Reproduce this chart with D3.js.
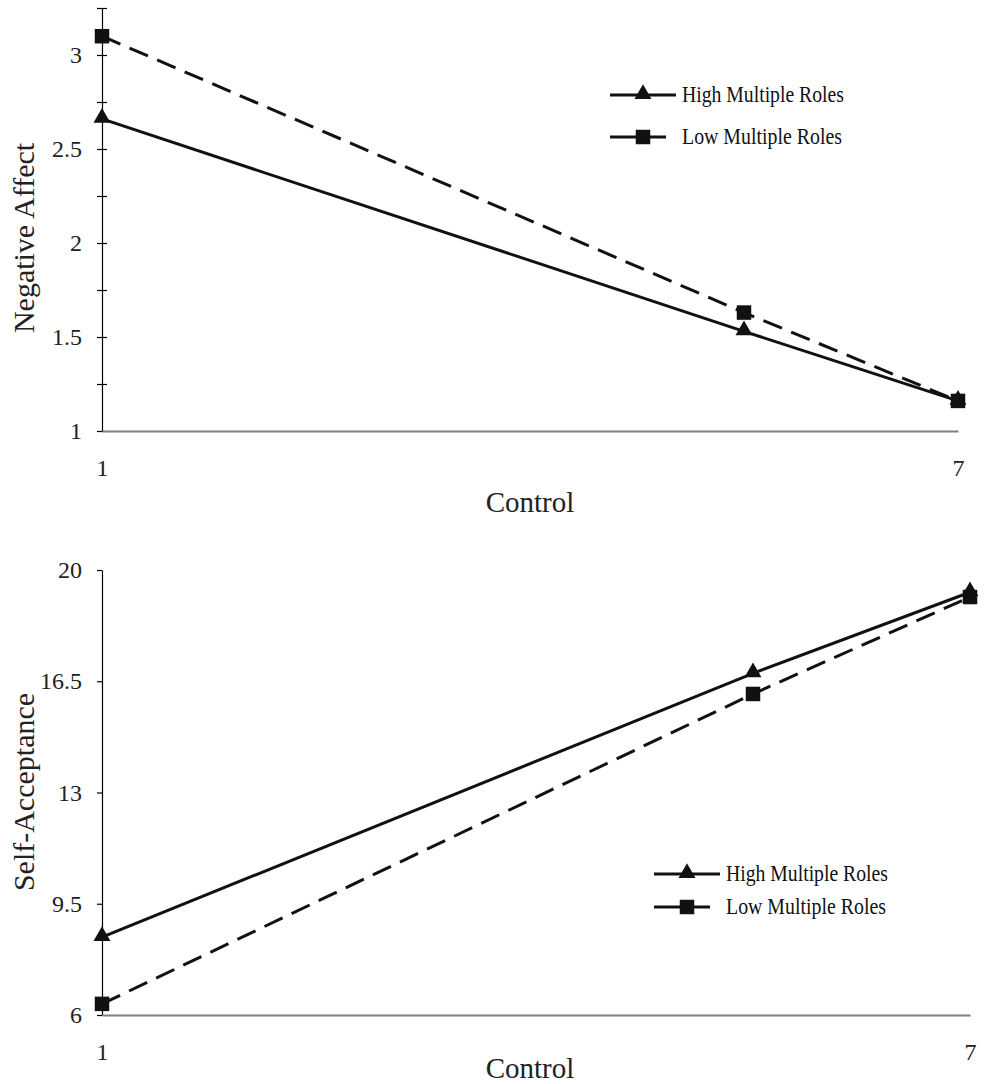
<!DOCTYPE html>
<html>
<head>
<meta charset="utf-8">
<script src="https://cdn.jsdelivr.net/npm/d3@7"></script>
<style>
  body { margin: 0; background: #fff; }
  svg { display: block; font-family: "Liberation Serif", "Times New Roman", serif; }
</style>
</head>
<body>
<div id="chart"></div>
<script>
// values
var controlLevels = [1, 5.5, 7];
var controlTicks = [1, 7];
var seriesNames = ["High Multiple Roles", "Low Multiple Roles"];

var negHigh = [2.66, 1.53, 1.16];
var negLow = [3.10, 1.63, 1.16];
var negTicks = [1, 1.25, 1.5, 1.75, 2, 2.25, 2.5, 2.75, 3, 3.25];

var selfHigh = [8.45, 16.75, 19.3];
var selfLow = [6.35, 16.1, 19.15];
var selfTicks = [6, 9.5, 13, 16.5, 20];

var serif = "Liberation Serif, Times New Roman, serif";

var svg = d3.select("#chart").append("svg")
  .attr("width", 986)
  .attr("height", 1084);

function drawPanel(opt) {
  var x = d3.scaleLinear().domain([1, 7]).range([102, opt.xRight]);
  var y = d3.scaleLinear().domain(opt.yDomain).range([opt.yBottom, opt.yTop]);

  var g = svg.append("g");

  // y axis
  var yAxis = g.append("g")
    .attr("transform", "translate(102,0)")
    .call(d3.axisLeft(y)
      .tickValues(opt.yTicks)
      .tickSizeInner(5)
      .tickSizeOuter(0)
      .tickPadding(15)
      .tickFormat(opt.yFormat));
  yAxis.select(".domain").attr("stroke", "#000").attr("stroke-width", 1.2);
  yAxis.selectAll(".tick line").attr("stroke", "#000").attr("stroke-width", 1.2);
  if (opt.crossTicks) yAxis.selectAll(".tick line").attr("x1", 5);
  yAxis.selectAll(".tick text")
    .attr("font-size", 24).attr("fill", "#222")
    .attr("font-family", serif);

  // x axis
  var xAxis = g.append("g")
    .attr("transform", "translate(0," + opt.yBottom + ")")
    .call(d3.axisBottom(x)
      .tickValues(controlTicks)
      .tickSize(0)
      .tickPadding(28)
      .tickFormat(d3.format("d")));
  xAxis.select(".domain").attr("stroke", "#808080").attr("stroke-width", 2);
  xAxis.selectAll(".tick text")
    .attr("font-size", 24).attr("fill", "#222")
    .attr("font-family", serif);

  // axis titles
  g.append("text")
    .attr("x", 530).attr("y", opt.xTitleY)
    .attr("text-anchor", "middle")
    .attr("font-size", 29).attr("fill", "#222")
    .text("Control");

  g.append("text")
    .attr("transform", "translate(34," + opt.yTitleY + ") rotate(-90)")
    .attr("text-anchor", "middle")
    .attr("font-size", 30).attr("fill", "#222")
    .text(opt.yTitle);

  var line = d3.line()
    .x(function(d, i) { return x(controlLevels[i]); })
    .y(function(d) { return y(d); });

  // low (dashed) first, then high on top
  g.append("path")
    .datum(opt.low)
    .attr("d", line)
    .attr("fill", "none")
    .attr("stroke", "#111")
    .attr("stroke-width", 3)
    .attr("stroke-dasharray", "20,10");

  g.append("path")
    .datum(opt.high)
    .attr("d", line)
    .attr("fill", "none")
    .attr("stroke", "#111")
    .attr("stroke-width", 3);

  var tri = d3.symbol().type(d3.symbolTriangle).size(125);
  var sq = d3.symbol().type(d3.symbolSquare).size(210);

  g.selectAll(".sq").data(opt.low).enter().append("path")
    .attr("d", sq)
    .attr("transform", function(d, i) { return "translate(" + x(controlLevels[i]) + "," + y(d) + ")"; })
    .attr("fill", "#111");

  g.selectAll(".tri").data(opt.high).enter().append("path")
    .attr("d", tri)
    .attr("transform", function(d, i) { return "translate(" + x(controlLevels[i]) + "," + (y(d) - 1) + ")"; })
    .attr("fill", "#111");

  // legend
  var lg = g.append("g").attr("transform", "translate(" + opt.legX + "," + opt.legY + ")");
  var rows = [
    { name: seriesNames[0], sym: tri, x2: 66, dy: -1, len: 162 },
    { name: seriesNames[1], sym: sq, x2: 56, dy: 0, len: 160 }
  ];
  rows.forEach(function(r, i) {
    var ry = i * opt.legGap;
    lg.append("line")
      .attr("x1", 0).attr("x2", r.x2)
      .attr("y1", ry).attr("y2", ry)
      .attr("stroke", "#111").attr("stroke-width", 3.2);
    lg.append("path")
      .attr("d", r.sym)
      .attr("transform", "translate(33," + (ry + r.dy) + ")")
      .attr("fill", "#111");
    lg.append("text")
      .attr("x", 72).attr("y", ry + 7)
      .attr("font-size", 23).attr("fill", "#111")
      .attr("textLength", r.len)
      .attr("lengthAdjust", "spacingAndGlyphs")
      .text(r.name);
  });
}

drawPanel({
  yDomain: [1, 3.25], yTop: 8, yBottom: 431, xRight: 958,
  yTicks: negTicks, crossTicks: true,
  yFormat: function(d) { return (d * 2) % 1 === 0 ? d3.format("~g")(d) : ""; },
  high: negHigh, low: negLow,
  xTitleY: 512, yTitle: "Negative Affect", yTitleY: 238,
  legX: 610, legY: 95, legGap: 42
});

drawPanel({
  yDomain: [6, 20], yTop: 570, yBottom: 1015, xRight: 970,
  yTicks: selfTicks, crossTicks: false,
  yFormat: d3.format("~g"),
  high: selfHigh, low: selfLow,
  xTitleY: 1078, yTitle: "Self-Acceptance", yTitleY: 792,
  legX: 654, legY: 874, legGap: 33
});
</script>
</body>
</html>
